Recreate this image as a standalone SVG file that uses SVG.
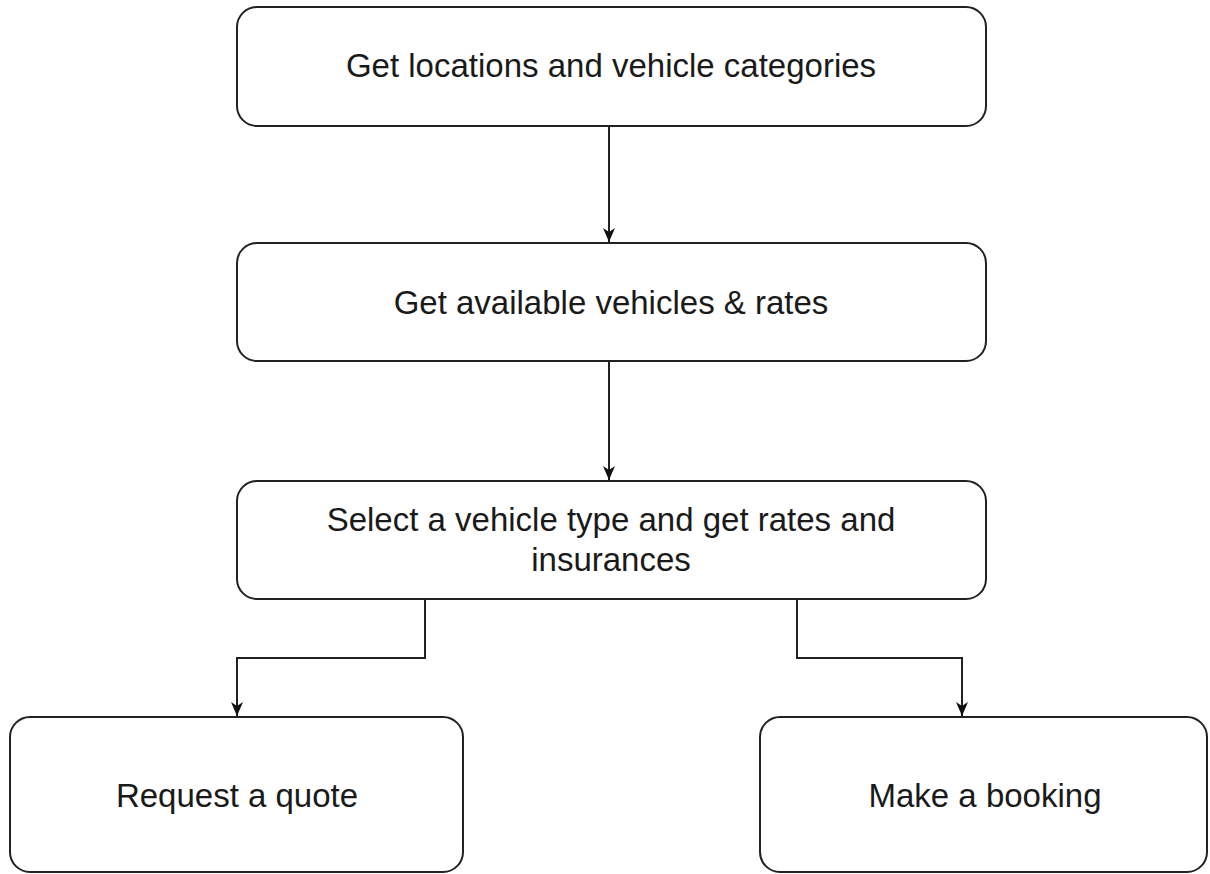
<svg xmlns="http://www.w3.org/2000/svg" width="1210" height="874" viewBox="0 0 1210 874">
<style>
.box{fill:#fff;stroke:#222;stroke-width:2}
.lbl{font-family:"Liberation Sans",Arial,sans-serif;font-size:33px;fill:#1a1a1a;text-anchor:middle}
.edge{fill:none;stroke:#222;stroke-width:2}
</style>
<defs>
<marker id="arr" viewBox="0 0 14 14" refX="14" refY="7" markerWidth="14" markerHeight="14" markerUnits="userSpaceOnUse" orient="auto">
<path d="M0,1 L14,7 L0,13 L4,7 Z" fill="#111"/>
</marker>
</defs>
<rect width="1210" height="874" fill="#fff"/>
<g id="edges">
<path class="edge" d="M609,126 V242" marker-end="url(#arr)"/>
<path class="edge" d="M609,361 V480" marker-end="url(#arr)"/>
<path class="edge" d="M425,599 V658 H237 V716" marker-end="url(#arr)"/>
<path class="edge" d="M797,599 V658 H962 V716" marker-end="url(#arr)"/>
</g>
<g id="n1"><rect class="box" x="237" y="7" width="749" height="119" rx="20"/><text class="lbl" x="611" y="77">Get locations and vehicle categories</text></g>
<g id="n2"><rect class="box" x="237" y="243" width="749" height="118" rx="20"/><text class="lbl" x="611" y="314">Get available vehicles &amp; rates</text></g>
<g id="n3"><rect class="box" x="237" y="481" width="749" height="118" rx="20"/><text class="lbl" x="611" y="531">Select a vehicle type and get rates and</text><text class="lbl" x="611" y="571">insurances</text></g>
<g id="n4"><rect class="box" x="10" y="717" width="453" height="155" rx="20"/><text class="lbl" x="237" y="807">Request a quote</text></g>
<g id="n5"><rect class="box" x="760" y="717" width="447" height="155" rx="20"/><text class="lbl" x="985" y="807">Make a booking</text></g>
</svg>
